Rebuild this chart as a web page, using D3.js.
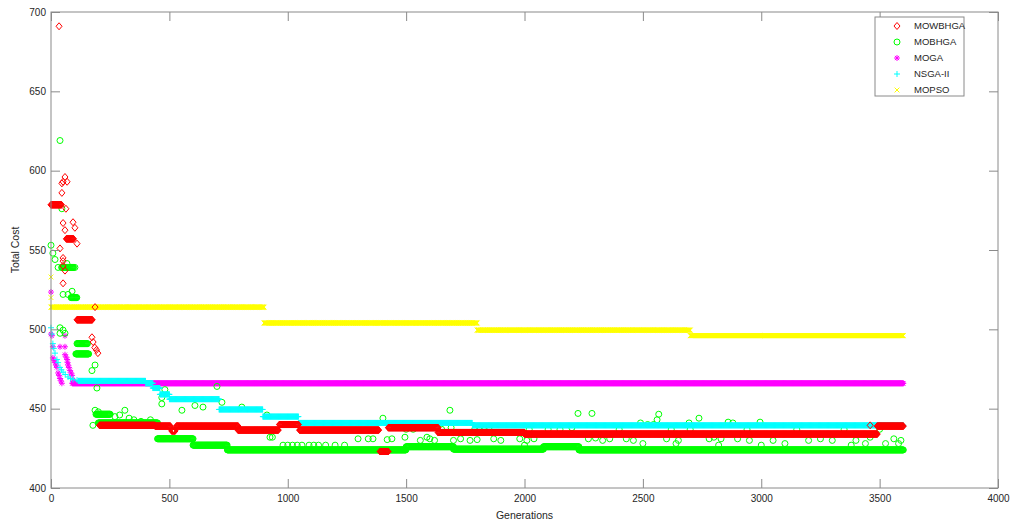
<!DOCTYPE html>
<meta charset="utf-8">
<html>
<head>
<script src="https://cdn.jsdelivr.net/npm/d3@7"></script>
<style>
  body { margin: 0; background: #fff; }
  svg text { font-family: "Liberation Sans", Arial, sans-serif; fill: #262626; }
</style>
</head>
<body>
<div id="chart"></div>
<script>

// series names, in legend order
const seriesNames = ["MOWBHGA", "MOBHGA", "MOGA", "NSGA-II", "MOPSO"];

// axis ticks
const xTicks = [0, 500, 1000, 1500, 2000, 2500, 3000, 3500, 4000];
const yTicks = [400, 450, 500, 550, 600, 650, 700];

// flat stretches of the best cost: [first generation, last generation, cost]
const mowbhgaRuns = [[0,45,578.5],[65,95,557],[110,175,506],[205,440,439.5],[440,505,439],[510,525,436],[530,790,439],
  [790,960,436.5],[965,1045,440],[1050,1385,436.5],[1390,1425,423],[1425,1635,438],[1635,2000,435],[2000,3490,434],[3490,3600,439]];
const mobhgaRuns = [[45,95,539],[85,110,520],[110,155,491],[105,160,484.5],[190,250,446.5],[200,450,441],[450,600,431],
  [600,745,427],[745,1500,424],[1500,1700,426],[1700,2080,424.5],[2080,2230,426],[2230,3600,424]];
const mogaRuns = [[90,3600,466]];
const nsgaRuns = [[115,400,467.5],[400,430,466],[430,460,463],[460,500,459],[500,710,456],[710,895,449.5],
  [895,1045,445],[1045,1780,441],[1780,3600,439.5]];
const mopsoRuns = [[0,900,514],[900,1800,504],[1800,2700,499.5],[2700,3600,496]];

// single scattered points: [generation, cost]
const mowbhgaPts = [[34,691],[59,596],[51,593],[68,593],[46,592],[46,586],[63,576],[51,567],[93,567.5],[101,564],
  [59,562.5],[110,554],[38,551],[51,545],[51,543],[51,540],[59,537],[51,529],[186,514],[173,495],[178,492],
  [185,488.5],[192,487],[198,485],[3460,439.5]];
const mobhgaEarlyPts = [[38,619],[46,576],[0,553],[8,548],[17,544],[30,539],[67,541.5],[101,539],[72,522],[51,522],
  [89,524],[38,501],[51,499.5],[38,497.5],[59,497.5],[173,474],[186,477.5],[194,463],[186,449],[200,448],[177,439.5],
  [270,445],[290,446],[312,449],[330,444],[350,443],[380,442],[420,443],
  [481,462],[468,457],[468,453],[553,449],[608,452],[642,451],[701,464],[722,454],[806,451],[912,446],
  [925,432],[935,432]];
const mobhgaLatePts = [[980,427],[1000,427],[1020,427],[1040,427],[1060,427],[1090,427],[1110,427],[1130,427],
  [1160,427],[1200,427],[1240,427],[1297,431],[1340,431],[1360,431],[1402,444],[1420,430.5],[1440,431],[1495,432],
  [1500,437],[1530,437],[1560,430],[1588,432],[1600,431],[1620,430],[1650,437],[1685,449],[1690,438],[1700,430],
  [1730,431],[1770,430],[1790,437],[1800,430.5],[1810,437],[1830,437],[1850,438],[1870,431],[1900,430],[1980,431],
  [2000,427],[2010,430],[2020,437],[2040,431],[2100,437],[2150,437],[2200,438],[2226,447],[2270,431],[2285,447],
  [2300,431.5],[2330,430],[2360,431],[2400,437],[2430,431],[2460,430],[2490,441],[2500,428],[2520,440],[2545,440],
  [2560,443],[2567,446.5],[2600,431],[2620,437],[2640,428],[2650,430],[2695,441],[2700,437],[2737,444],[2780,431],
  [2800,432],[2820,427],[2830,431],[2860,441.5],[2880,441],[2900,431],[2940,437],[2950,430],[2995,441.5],[3000,427],
  [3050,430],[3100,428],[3150,437],[3200,430],[3250,431],[3300,430],[3350,437],[3380,427],[3400,430],[3440,428],
  [3460,432],[3500,437],[3525,428],[3560,431],[3580,428],[3590,430]];
const mogaPts = [[0,523.5],[0,497],[4,496],[59,496],[38,489],[8,489],[59,489],[8,482],[13,480.5],[17,479],[21,477.5],
  [25,476],[30,472.5],[34,471],[38,469],[42,467.5],[46,466],[59,484],[64,482.5],[68,481],[70,479],[72,477.5],
  [76,476],[80,474],[85,472.5],[89,471],[93,468]];
const nsgaPts = [[0,501],[4,497],[8,491],[12,488],[17,485],[25,481],[30,479],[38,476],[44,474.5],[51,473],
  [60,471.5],[72,470],[82,469],[93,468.5],[110,468]];
const mopsoPts = [[0,533],[0,520]];

const colors = ["#ff0000", "#00ff00", "#ff00ff", "#00ffff", "#ffff00"];

const margin = {top: 12, right: 18, bottom: 35, left: 51},
      width = 1016 - margin.left - margin.right,
      height = 523 - margin.top - margin.bottom;

const svg = d3.select("#chart").append("svg")
    .attr("width", width + margin.left + margin.right)
    .attr("height", height + margin.top + margin.bottom)
  .append("g")
    .attr("transform", `translate(${margin.left},${margin.top})`);

const x = d3.scaleLinear().domain([0, 4000]).range([0, width]);
const y = d3.scaleLinear().domain([400, 700]).range([height, 0]);

// marker shapes, MATLAB style
const r = 3;
const shapes = [
  `M0,${-r - 0.5}L${r},0L0,${r + 0.5}L${-r},0Z`,                                   // diamond
  `M${r},0A${r},${r} 0 1,1 ${-r},0A${r},${r} 0 1,1 ${r},0Z`,                      // circle
  `M${-r},0H${r}M0,${-r}V${r}M${-r*0.7},${-r*0.7}L${r*0.7},${r*0.7}M${-r*0.7},${r*0.7}L${r*0.7},${-r*0.7}`, // asterisk
  `M${-r},0H${r}M0,${-r}V${r}`,                                                     // plus
  `M${-r*0.8},${-r*0.8}L${r*0.8},${r*0.8}M${-r*0.8},${r*0.8}L${r*0.8},${-r*0.8}` // cross
];

// one marker per generation step along each flat stretch
function expand(runs, pts) {
  const out = [];
  runs.forEach(function(d) {
    for (let g = d[0]; g <= d[1]; g += 2) out.push([g, d[2]]);
  });
  return out.concat(pts);
}

const seriesData = [
  expand(mowbhgaRuns, mowbhgaPts),
  expand(mobhgaRuns, mobhgaEarlyPts.concat(mobhgaLatePts)),
  expand(mogaRuns, mogaPts),
  expand(nsgaRuns, nsgaPts),
  expand(mopsoRuns, mopsoPts)
];

// drawing order as in the picture: yellow, magenta, green, cyan, red on top
[4, 2, 1, 3, 0].forEach(function(i) {
  svg.append("g")
    .selectAll("path")
    .data(seriesData[i])
    .join("path")
      .attr("transform", d => `translate(${x(d[0]).toFixed(2)},${y(d[1]).toFixed(2)})`)
      .attr("d", shapes[i])
      .attr("fill", "none")
      .attr("stroke", colors[i])
      .attr("stroke-width", 1);
});

// axes, ticks inside like MATLAB
const axisColor = "#8a8a8a";
function styleAxis(g) {
  g.select(".domain").remove();
  g.selectAll(".tick line").attr("stroke", axisColor);
  g.selectAll(".tick text").attr("fill", "#262626").style("font-size", "10px");
}
svg.append("g").attr("transform", `translate(0,${height})`)
  .call(d3.axisBottom(x).tickValues(xTicks).tickSize(-9).tickPadding(7).tickFormat(d3.format("d"))).call(styleAxis);
svg.append("g")
  .call(d3.axisTop(x).tickValues(xTicks).tickSize(-9).tickFormat("")).call(styleAxis);
svg.append("g")
  .call(d3.axisLeft(y).tickValues(yTicks).tickSize(-9).tickPadding(5).tickFormat(d3.format("d"))).call(styleAxis);
svg.append("g").attr("transform", `translate(${width},0)`)
  .call(d3.axisRight(y).tickValues(yTicks).tickSize(-9).tickFormat("")).call(styleAxis);

svg.append("rect")
  .attr("x", 0).attr("y", 0).attr("width", width).attr("height", height)
  .attr("fill", "none").attr("stroke", axisColor);

// axis labels
svg.append("text")
  .attr("x", width / 2).attr("y", height + 31)
  .attr("text-anchor", "middle")
  .style("font-size", "10.5px")
  .text("Generations");
svg.append("text")
  .attr("transform", `translate(${-32},${height / 2}) rotate(-90)`)
  .attr("text-anchor", "middle")
  .style("font-size", "10.5px")
  .text("Total Cost");

// legend
const legend = svg.append("g").attr("transform", `translate(${875 - margin.left},${17 - margin.top})`);
legend.append("rect")
  .attr("width", 89).attr("height", 79)
  .attr("fill", "#fff").attr("stroke", axisColor);
seriesNames.forEach(function(name, i) {
  const row = legend.append("g").attr("transform", `translate(0,${9 + i * 16})`);
  row.append("path")
    .attr("transform", "translate(22,0)")
    .attr("d", shapes[i])
    .attr("fill", "none")
    .attr("stroke", colors[i]);
  row.append("text")
    .attr("x", 39).attr("y", 0).attr("dy", "0.35em")
    .style("font-size", "9.5px")
    .text(name);
});

</script>
</body>
</html>
